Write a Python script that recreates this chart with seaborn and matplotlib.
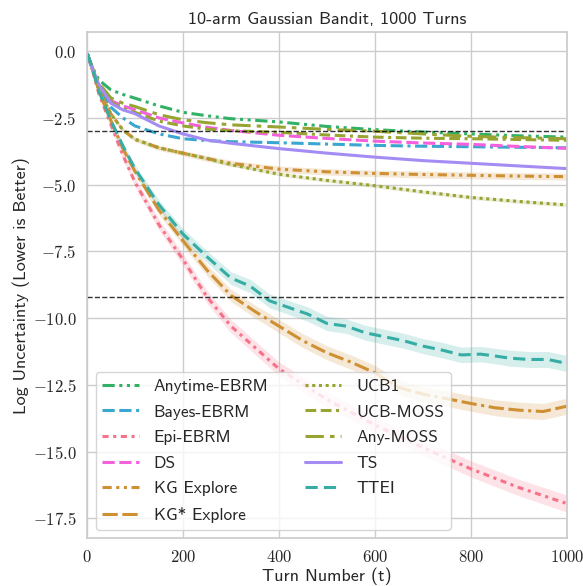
import numpy as np
import pandas as pd
import matplotlib
matplotlib.use("Agg")
import matplotlib.pyplot as plt
import matplotlib.ticker as ticker
import seaborn as sns

# --- data ---
algorithms = ['Anytime-EBRM', 'Bayes-EBRM', 'Epi-EBRM', 'DS', 'KG Explore', 'KG* Explore',
              'UCB1', 'UCB-MOSS', 'Any-MOSS', 'TS', 'TTEI']

turns = [1, 10, 25, 50, 75, 100, 150, 200, 250, 300, 400, 500, 600, 700, 800, 900, 1000]
turns_kgs = [1, 10, 25, 50, 75, 100, 150, 200, 250, 300, 350, 400, 450, 500, 550, 600, 650,
             700, 750, 800, 850, 900, 950, 1000]
turns_ttei = [1, 10, 25, 50, 75, 100, 150, 200, 250, 300, 340, 380, 420, 460, 500, 540, 580,
              620, 660, 700, 740, 780, 820, 850, 880, 920, 960, 1000]

anytime_ebrm = [-0.1, -0.55, -1.08, -1.45, -1.62, -1.76, -2.05, -2.29, -2.42, -2.53, -2.65,
                -2.82, -2.94, -3.03, -3.10, -3.17, -3.22]
bayes_ebrm = [-0.1, -0.6, -1.35, -2.1, -2.5, -2.8, -3.1, -3.28, -3.35, -3.39, -3.43, -3.48,
              -3.53, -3.56, -3.58, -3.60, -3.62]
epi_ebrm = [-0.1, -0.6, -1.6, -2.75, -3.9, -4.9, -6.5, -7.8, -9.2, -10.3, -11.9, -13.05,
            -14.0, -14.85, -15.65, -16.35, -16.95]
ds = [-0.1, -0.6, -1.25, -1.85, -2.05, -2.19, -2.5, -2.69, -2.85, -2.97, -3.15, -3.27, -3.37,
      -3.44, -3.49, -3.57, -3.64]
kg_explore = [-0.1, -0.6, -1.45, -2.35, -2.95, -3.3, -3.62, -3.82, -4.02, -4.2, -4.42, -4.52,
              -4.58, -4.62, -4.65, -4.68, -4.70]
kg_star = [-0.1, -0.55, -1.5, -2.6, -3.65, -4.5, -5.95, -7.1, -8.2, -9.15, -9.75, -10.3,
           -10.85, -11.3, -11.65, -12.05, -12.6, -12.85, -13.02, -13.2, -13.36, -13.45, -13.5,
           -13.3]
ucb1 = [-0.1, -0.6, -1.45, -2.35, -2.95, -3.3, -3.62, -3.82, -4.02, -4.25, -4.61, -4.84, -5.04,
        -5.27, -5.48, -5.63, -5.76]
ucb_moss = [-0.1, -0.6, -1.3, -1.9, -2.15, -2.29, -2.62, -2.8, -2.92, -2.98, -3.04, -3.14,
            -3.22, -3.26, -3.28, -3.31, -3.34]
any_moss = [-0.1, -0.55, -1.2, -1.75, -1.95, -2.07, -2.38, -2.57, -2.68, -2.76, -2.84, -2.93,
            -3.0, -3.1, -3.19, -3.24, -3.28]
ts = [-0.1, -0.6, -1.25, -1.95, -2.2, -2.34, -2.8, -3.10, -3.33, -3.45, -3.65, -3.82, -3.97,
      -4.1, -4.2, -4.3, -4.4]
ttei = [-0.1, -0.55, -1.5, -2.6, -3.55, -4.4, -5.75, -6.85, -7.7, -8.5, -8.8, -9.35, -9.6,
        -9.85, -10.2, -10.3, -10.55, -10.7, -10.85, -11.05, -11.2, -11.38, -11.35, -11.42,
        -11.5, -11.55, -11.55, -11.7]

# half widths of the shaded bands
epi_band = [0.0, 0.06, 0.1, 0.13, 0.15, 0.17, 0.2, 0.22, 0.24, 0.25, 0.26, 0.27, 0.28, 0.29,
            0.3, 0.31, 0.32]
kg_explore_band = [0.0, 0.03, 0.05, 0.07, 0.08, 0.09, 0.1, 0.1, 0.11, 0.11, 0.12, 0.12, 0.12,
                   0.13, 0.13, 0.13, 0.13]
ucb1_band = [0.0, 0.02, 0.03, 0.04, 0.05, 0.05, 0.05, 0.06, 0.06, 0.06, 0.06, 0.07, 0.07,
             0.07, 0.07, 0.07, 0.07]
kg_star_band = [0.0, 0.05, 0.08, 0.1, 0.12, 0.14, 0.17, 0.19, 0.21, 0.23, 0.24, 0.25, 0.26,
                0.26, 0.27, 0.27, 0.28, 0.28, 0.29, 0.29, 0.3, 0.3, 0.3, 0.3]
ttei_band = [0.0, 0.05, 0.08, 0.1, 0.12, 0.14, 0.17, 0.2, 0.22, 0.24, 0.25, 0.26, 0.26, 0.27,
             0.27, 0.27, 0.28, 0.28, 0.28, 0.28, 0.29, 0.29, 0.29, 0.29, 0.3, 0.3, 0.3, 0.3]

thresholds = [-3.0, -9.21]

series = {
    'Anytime-EBRM': (turns, anytime_ebrm, None),
    'Bayes-EBRM': (turns, bayes_ebrm, None),
    'Epi-EBRM': (turns, epi_ebrm, epi_band),
    'DS': (turns, ds, None),
    'KG Explore': (turns, kg_explore, kg_explore_band),
    'KG* Explore': (turns_kgs, kg_star, kg_star_band),
    'UCB1': (turns, ucb1, ucb1_band),
    'UCB-MOSS': (turns, ucb_moss, None),
    'Any-MOSS': (turns, any_moss, None),
    'TS': (turns, ts, None),
    'TTEI': (turns_ttei, ttei, ttei_band),
}

rows = []
for alg in algorithms:
    xs, ys, _ = series[alg]
    for x, y in zip(xs, ys):
        rows.append({'turn': x, 'value': y, 'alg': alg})
df = pd.DataFrame(rows)

# colours: husl families
husl = sns.color_palette("husl", 8)
palette = {
    'Anytime-EBRM': husl[3], 'Bayes-EBRM': husl[5], 'Epi-EBRM': husl[0], 'DS': husl[7],
    'KG Explore': husl[1], 'KG* Explore': husl[1], 'UCB1': husl[2], 'UCB-MOSS': husl[2],
    'Any-MOSS': husl[2], 'TS': husl[6], 'TTEI': husl[4],
}
dashes = {
    'Anytime-EBRM': (4, 1.5, 1, 1.5, 1, 1.5),
    'Bayes-EBRM': (4, 1.5, 4, 1.5, 1, 1.5),
    'Epi-EBRM': (2, 1.5, 1, 1.5),
    'DS': (4, 1.5),
    'KG Explore': (3, 1.5, 1, 1.5, 1, 1.5),
    'KG* Explore': (5, 1.5, 5, 1.5, 1, 1.5),
    'UCB1': (1, 1.2),
    'UCB-MOSS': (3.5, 1.5, 3.5, 1.5, 1, 1.5),
    'Any-MOSS': (6, 2, 1.5, 2),
    'TS': '',
    'TTEI': (4, 2),
}

sns.set_theme(style="whitegrid")
plt.rcParams['font.family'] = ['cmss10', 'DejaVu Sans']
plt.rcParams['mathtext.fontset'] = 'cm'
plt.rcParams['axes.unicode_minus'] = True

fig, ax = plt.subplots(figsize=(5.83, 5.86), dpi=100)
fig.subplots_adjust(left=0.149, right=0.9726, top=0.945, bottom=0.0814)

for alg in algorithms:
    xs, ys, band = series[alg]
    if band is not None:
        lo = np.array(ys) - np.array(band)
        hi = np.array(ys) + np.array(band)
        ax.fill_between(xs, lo, hi, color=palette[alg], alpha=0.2, linewidth=0)

sns.lineplot(data=df, x='turn', y='value', hue='alg', style='alg', hue_order=algorithms,
             style_order=algorithms, palette=palette, dashes=dashes, linewidth=2.2, ax=ax)

for th in thresholds:
    ax.axhline(th, color='black', linestyle='--', linewidth=1.0, alpha=0.8)

ax.set_xlim(0, 1000)
ax.set_ylim(-18.25, 0.71)
ax.set_xticks([0, 200, 400, 600, 800, 1000])
ax.set_yticks([0.0, -2.5, -5.0, -7.5, -10.0, -12.5, -15.0, -17.5])
ax.xaxis.set_major_formatter(ticker.FuncFormatter(lambda v, p: f"${v:.0f}$"))
ax.yaxis.set_major_formatter(ticker.FuncFormatter(lambda v, p: f"${v:.1f}$"))
ax.tick_params(labelsize=12, pad=1.5)

ax.set_title('10-arm Gaussian Bandit, 1000 Turns', fontsize=13)
ax.set_xlabel('Turn Number (t)', fontsize=13, labelpad=2)
ax.set_ylabel('Log Uncertainty (Lower is Better)', fontsize=13, labelpad=2)

ax.legend(loc='lower left', ncol=2, fontsize=12.5, handlelength=2.1, handletextpad=0.85,
          labelspacing=0.6, columnspacing=2.1, title=None)

plt.savefig('out.png', dpi=100)
